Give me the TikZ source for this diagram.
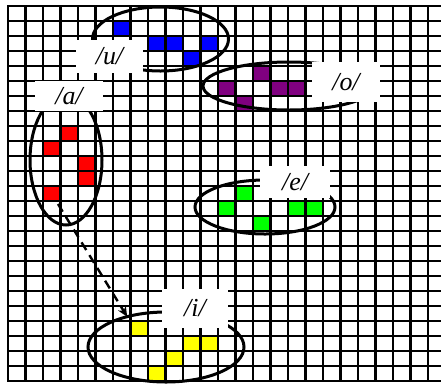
\documentclass[tikz,border=0pt]{standalone}
\usepackage{fontspec}
\setmainfont{Liberation Serif}
\usetikzlibrary{shapes.geometric,arrows.meta}
\definecolor{cblue}{RGB}{0,0,255}
\definecolor{cpurple}{RGB}{128,0,128}
\definecolor{cred}{RGB}{255,0,0}
\definecolor{cgreen}{RGB}{0,255,0}
\definecolor{cyellow}{RGB}{255,255,0}
\begin{document}
\begin{tikzpicture}[x=1bp,y=-1bp,
  gridline/.style={black,line width=2.1bp,line cap=rect},
  ell/.style={ellipse,draw=black,line width=3bp,inner sep=0pt,outer sep=0pt},
  lbl/.style={fill=white,inner sep=0pt,font=\fontsize{26}{26}\selectfont\itshape},
  arr/.style={black,line width=2.4bp,dash pattern=on 9bp off 6bp,-{Stealth[length=10bp,width=9bp]}}]
\useasboundingbox (0,0) rectangle (441,385);
\fill[white] (0,0) rectangle (441,385);
% coloured cells
\foreach \c/\r in {6/1,8/2,9/2,11/2,10/3}
  \fill[cblue] ({8+17.5*\c},{6+15*\r}) rectangle +(17.5,15);
\foreach \c/\r in {14/4,12/5,15/5,16/5,13/6}
  \fill[cpurple] ({8+17.5*\c},{6+15*\r}) rectangle +(17.5,15);
\foreach \c/\r in {3/8,2/9,4/10,4/11,2/12}
  \fill[cred] ({8+17.5*\c},{6+15*\r}) rectangle +(17.5,15);
\foreach \c/\r in {13/12,12/13,16/13,17/13,14/14}
  \fill[cgreen] ({8+17.5*\c},{6+15*\r}) rectangle +(17.5,15);
\foreach \c/\r in {7/21,10/22,11/22,9/23,8/24}
  \fill[cyellow] ({8+17.5*\c},{6+15*\r}) rectangle +(17.5,15);
% grid
\foreach \k in {0,...,25}
  \draw[gridline] (8,{6+15*\k}) -- (441,{6+15*\k});
\foreach \k in {0,...,24}
  \draw[gridline] ({8+17.5*\k},6) -- ({8+17.5*\k},381);
% ellipses
\node[ell,minimum width=136bp,minimum height=64bp] (eU) at (160.5,39) {};
\node[ell,minimum width=72bp,minimum height=130bp] (eA) at (66,160) {};
\node[ell,minimum width=172bp,minimum height=48bp] (eO) at (289,86) {};
\node[ell,minimum width=140bp,minimum height=54bp] (eE) at (265,207) {};
\node[ell,minimum width=156bp,minimum height=70bp] (eI) at (166,347) {};
% arrow
\coordinate (aS) at (58,204);
\draw[arr] (aS) -- (eI.142);
% labels
\node[lbl,minimum width=67bp,minimum height=33bp] (lU) at (109.5,56.5) {/u/};
\node[lbl,minimum width=68bp,minimum height=30bp] (lA) at (69,96) {/a/};
\node[lbl,minimum width=68bp,minimum height=40bp] (lO) at (346,82) {/o/};
\node[lbl,minimum width=70bp,minimum height=32bp] (lE) at (295,182) {/e/};
\node[lbl,minimum width=66bp,minimum height=39bp] (lI) at (195,308.5) {/i/};
\end{tikzpicture}
\end{document}
